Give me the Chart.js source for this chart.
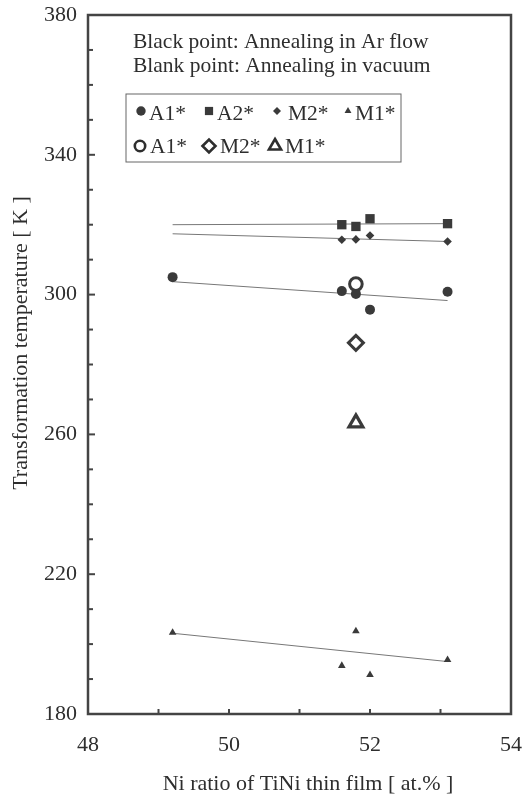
<!DOCTYPE html>
<html lang="en">
<head>
    <meta charset="UTF-8">
    <title>Transformation temperature vs Ni ratio</title>
    <script src="https://cdn.jsdelivr.net/npm/chart.js"></script>
    <style>
        body { margin: 0; background: white; }
        .wrap { width: 524px; height: 799px; }
    </style>
</head>
<body>
    <div class="wrap"><canvas id="tiniChart" width="524" height="799"></canvas></div>

    <script>
        // Ni ratio [at.%] / temperature [K]
        const a1Ar_x = [49.2, 51.6, 51.8, 52.0, 53.1];
        const a1Ar_y = [305, 301, 300.2, 295.7, 300.8];
        const a2Ar_x = [51.6, 51.8, 52.0, 53.1];
        const a2Ar_y = [320, 319.5, 321.7, 320.3];
        const m2Ar_x = [51.6, 51.8, 52.0, 53.1];
        const m2Ar_y = [315.7, 315.8, 316.9, 315.2];
        const m1Ar_x = [49.2, 51.6, 51.8, 52.0, 53.1];
        const m1Ar_y = [203.3, 193.8, 203.7, 191.2, 195.5];

        const vac_x = [51.8];
        const a1Vac_y = [303];
        const m2Vac_y = [286.2];
        const m1Vac_y = [263.3];

        // fitted lines (ends)
        const fit_x = [49.2, 53.1];
        const a1Fit_y = [303.7, 298.3];
        const a2Fit_y = [320.0, 320.3];
        const m2Fit_y = [317.4, 315.2];
        const m1Fit_y = [203.1, 195.0];

        const noteLines = ['Black point: Annealing in Ar flow', 'Blank point: Annealing in vacuum'];
        const legendRow1 = ['A1*', 'A2*', 'M2*', 'M1*'];
        const legendRow2 = ['A1*', 'M2*', 'M1*'];

        const FONT = '"Liberation Serif", "Times New Roman", serif';
        const INK = '#2e2e2e';
        const DOT = '#3a3a3a';

        const pts = (xs, ys) => xs.map((x, i) => ({ x: x, y: ys[i] }));

        function markers(label, xs, ys, style, r, open, bw) {
            return {
                label: label,
                data: pts(xs, ys),
                showLine: false,
                pointStyle: style,
                pointRadius: r,
                pointBackgroundColor: open ? 'white' : DOT,
                pointBorderColor: DOT,
                pointBorderWidth: open ? bw : 0,
                order: 1
            };
        }

        function fitLine(ys) {
            return {
                label: 'fit',
                data: pts(fit_x, ys),
                showLine: true,
                borderColor: '#777',
                borderWidth: 1,
                pointRadius: 0,
                order: 2
            };
        }

        // frame, inward ticks, axis titles, note and legend box
        const decor = {
            id: 'decor',
            afterDraw(chart) {
                const ctx = chart.ctx;
                const a = chart.chartArea;
                const xs = chart.scales.x, ys = chart.scales.y;
                ctx.save();
                ctx.strokeStyle = '#444';
                ctx.lineWidth = 2.5;
                ctx.strokeRect(a.left, a.top, a.right - a.left, a.bottom - a.top);

                ctx.lineWidth = 2;
                ys.ticks.forEach(t => {
                    if (t.value <= ys.min || t.value >= ys.max) return;
                    const y = ys.getPixelForValue(t.value);
                    const len = t.value % 40 === 20 ? 7 : 5;
                    ctx.beginPath();
                    ctx.moveTo(a.left, y);
                    ctx.lineTo(a.left + len, y);
                    ctx.stroke();
                });
                xs.ticks.forEach(t => {
                    if (t.value <= xs.min || t.value >= xs.max) return;
                    const x = xs.getPixelForValue(t.value);
                    ctx.beginPath();
                    ctx.moveTo(x, a.bottom);
                    ctx.lineTo(x, a.bottom - 5);
                    ctx.stroke();
                });

                ctx.fillStyle = INK;
                ctx.font = '22px ' + FONT;
                ctx.textBaseline = 'middle';
                ctx.textAlign = 'center';
                ctx.fillText('Ni ratio of TiNi thin film [ at.% ]', 308, 784);
                ctx.save();
                ctx.translate(21, 343);
                ctx.rotate(-Math.PI / 2);
                ctx.fillText('Transformation temperature [ K ]', 0, 0);
                ctx.restore();

                ctx.font = '21.5px ' + FONT;
                ctx.textAlign = 'left';
                ctx.textBaseline = 'alphabetic';
                ctx.fillText(noteLines[0], 133, 48);
                ctx.fillText(noteLines[1], 133, 72);

                ctx.strokeStyle = '#666';
                ctx.lineWidth = 1;
                ctx.strokeRect(126, 94, 275, 68);

                const row1 = [
                    { style: 'circle', r: 4.7, mx: 141, tx: 149 },
                    { style: 'rect', r: 5.8, mx: 209, tx: 217 },
                    { style: 'rectRot', r: 4, mx: 277, tx: 288 },
                    { style: 'triangle', r: 4, mx: 348, tx: 355 }
                ];
                row1.forEach((m, i) => {
                    ctx.fillStyle = DOT;
                    ctx.strokeStyle = DOT;
                    Chart.helpers.drawPoint(ctx, { pointStyle: m.style, radius: m.r, borderWidth: 0, rotation: 0 }, m.mx, 111);
                    ctx.fillStyle = INK;
                    ctx.fillText(legendRow1[i], m.tx, 120);
                });
                const row2 = [
                    { style: 'circle', r: 5.2, mx: 140, tx: 150 },
                    { style: 'rectRot', r: 6.5, mx: 209, tx: 220 },
                    { style: 'triangle', r: 7, mx: 275, tx: 285 }
                ];
                ctx.lineWidth = 2.6;
                row2.forEach((m, i) => {
                    ctx.fillStyle = 'white';
                    ctx.strokeStyle = INK;
                    Chart.helpers.drawPoint(ctx, { pointStyle: m.style, radius: m.r, borderWidth: 2.6, rotation: 0 }, m.mx, 146);
                    ctx.fillStyle = INK;
                    ctx.fillText(legendRow2[i], m.tx, 153);
                });
                ctx.restore();
            }
        };

        new Chart(document.getElementById('tiniChart'), {
            type: 'scatter',
            data: {
                datasets: [
                    markers('A1* Ar', a1Ar_x, a1Ar_y, 'circle', 5, false),
                    markers('A2* Ar', a2Ar_x, a2Ar_y, 'rect', 6.6, false),
                    markers('M2* Ar', m2Ar_x, m2Ar_y, 'rectRot', 4.3, false),
                    markers('M1* Ar', m1Ar_x, m1Ar_y, 'triangle', 4.4, false),
                    markers('A1* vac', vac_x, a1Vac_y, 'circle', 6.3, true, 3),
                    markers('M2* vac', vac_x, m2Vac_y, 'rectRot', 7.5, true, 3),
                    markers('M1* vac', vac_x, m1Vac_y, 'triangle', 8, true, 3.2),
                    fitLine(a1Fit_y),
                    fitLine(a2Fit_y),
                    fitLine(m2Fit_y),
                    fitLine(m1Fit_y)
                ]
            },
            options: {
                responsive: false,
                animation: false,
                layout: { padding: { left: 0, top: 15, right: 13, bottom: 0 } },
                plugins: { legend: { display: false }, tooltip: { enabled: false } },
                scales: {
                    x: {
                        min: 48, max: 54,
                        grid: { display: false, drawTicks: false },
                        border: { display: false },
                        afterFit: s => { s.height = 85; s.paddingLeft = 0; s.paddingRight = 0; },
                        ticks: {
                            stepSize: 1, autoSkip: false, maxRotation: 0,
                            color: INK, padding: 18,
                            font: { family: FONT, size: 22 },
                            callback: v => (v % 2 === 0 ? v : '')
                        }
                    },
                    y: {
                        min: 180, max: 380,
                        grid: { display: false, drawTicks: false },
                        border: { display: false },
                        afterFit: s => { s.width = 88; s.paddingTop = 0; s.paddingBottom = 0; },
                        ticks: {
                            stepSize: 10, autoSkip: false,
                            color: INK, padding: 11,
                            font: { family: FONT, size: 22 },
                            callback: v => (v % 40 === 20 ? v : '')
                        }
                    }
                }
            },
            plugins: [decor]
        });
    </script>
</body>
</html>
